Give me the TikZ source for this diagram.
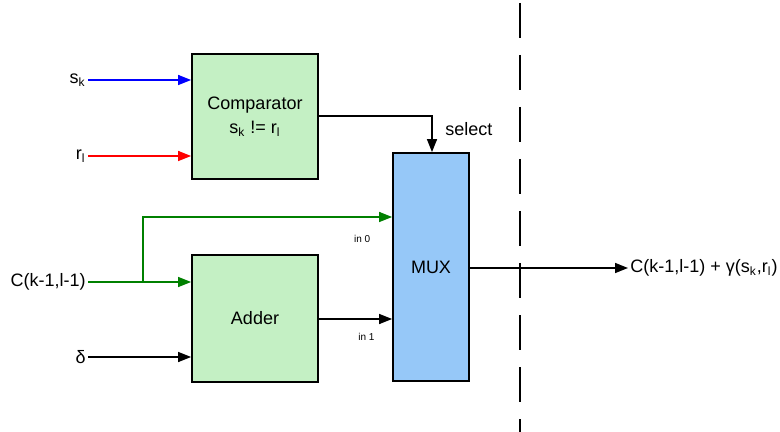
\documentclass[tikz,border=0pt]{standalone}
\usepackage{fontspec}
\setmainfont{Liberation Sans}
\usetikzlibrary{arrows.meta}
\definecolor{boxgreen}{RGB}{196,240,196}
\definecolor{boxblue}{RGB}{150,200,248}
\definecolor{wiregreen}{RGB}{0,128,0}

\begin{document}
\begin{tikzpicture}[x=0.5pt,y=-0.5pt,font=\fontsize{9}{11}\selectfont,
 blk/.style={draw,line width=0.9pt,inner sep=0pt,align=center},
 ar/.style={-{Triangle[length=6.5pt,width=5pt]},line width=0.75pt},
 lbl/.style={inner sep=1pt,anchor=east},
 sm/.style={font=\fontsize{5}{6}\selectfont,inner sep=1pt}]
\useasboundingbox (0,0) rectangle (780,432);
% blocks
\node[blk,fill=boxgreen,minimum width=63pt,minimum height=62.5pt] (cmp) at (255,116.5)
 {Comparator\\[1pt]s\textsubscript{k} != r\textsubscript{l}};
\node[blk,fill=boxgreen,minimum width=63pt,minimum height=63.5pt] (add) at (255,318.5) {Adder};
\node[blk,fill=boxblue,minimum width=38pt,minimum height=114pt] (mux) at (431,267) {MUX};
% inputs
\node[lbl] (sk) at (88,80) {s\textsubscript{k}};
\node[lbl] (rl) at (88,156) {r\textsubscript{l}};
\node[lbl] (cin) at (88,282) {C(k-1,l-1)};
\node[lbl] (dl) at (88,357) {δ};
\node[anchor=west,inner sep=1pt] (out) at (628,268) {C(k-1,l-1) + γ(s\textsubscript{k},r\textsubscript{l})};
\coordinate (j) at (143,282);
\draw[ar,blue] (sk.east) -- (cmp.west |- sk);
\draw[ar,red] (rl.east) -- (cmp.west |- rl);
\draw[ar,wiregreen] (cin.east) -- (add.west |- cin);
\draw[ar,wiregreen] (j) |- (mux.west |- 0,217) node[sm,pos=0.94,below=8pt,black]{in 0};
\draw[ar] (dl.east) -- (add.west |- dl);
\draw[ar] (add.east |- 0,319) -- (mux.west |- 0,319) node[sm,pos=0.65,below=6pt]{in 1};
\draw[ar] (cmp.east |- 0,116) -- (432,116) -- (mux.north -| 432,0) node[pos=0.35,right=3pt]{select};
\draw[ar] (mux.east |- out) -- (out.west);
% separator
\draw[line width=1pt,dash pattern=on 17.5pt off 8.5pt] (520,3) -- (520,432);
\end{tikzpicture}
\end{document}
